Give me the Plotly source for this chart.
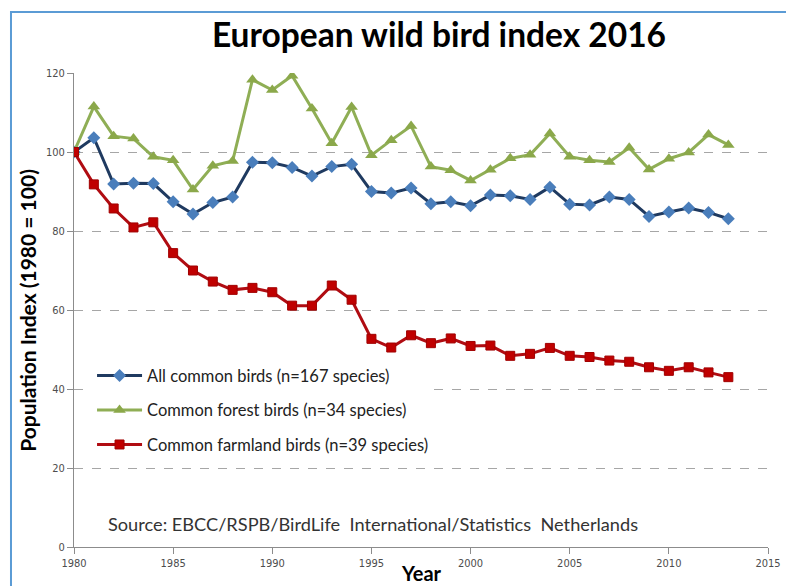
import plotly.graph_objects as go

years = list(range(1980, 2014))

all_common = [100, 103.6, 91.9, 92.1, 92.0, 87.4, 84.3, 87.2, 88.6, 97.4,
              97.3, 96.1, 93.9, 96.3, 96.9, 90.0, 89.6, 90.9, 86.9, 87.4,
              86.4, 89.1, 88.9, 88.0, 91.1, 86.8, 86.6, 88.6, 88.0, 83.7,
              84.8, 85.8, 84.7, 83.1]

forest = [100, 111.5, 104.0, 103.4, 98.8, 97.9, 90.5, 96.5, 97.7, 118.3,
          115.7, 119.3, 111.0, 102.2, 111.4, 99.2, 103.0, 106.6, 96.3, 95.4,
          92.8, 95.5, 98.4, 99.3, 104.7, 98.8, 97.9, 97.5, 101.1, 95.6,
          98.3, 99.9, 104.4, 101.8]

farmland = [100, 91.8, 85.7, 80.9, 82.2, 74.4, 70.0, 67.2, 65.1, 65.6,
            64.5, 61.1, 61.1, 66.2, 62.6, 52.7, 50.5, 53.6, 51.6, 52.8,
            50.9, 51.0, 48.4, 48.9, 50.4, 48.4, 48.1, 47.2, 46.9, 45.5,
            44.6, 45.5, 44.2, 43.0]

series_names = [
    "All common birds (n=167 species)",
    "Common forest birds (n=34 species)",
    "Common farmland birds (n=39 species)",
]

x_ticks = [1980, 1985, 1990, 1995, 2000, 2005, 2010, 2015]
y_ticks = [0, 20, 40, 60, 80, 100, 120]

body_font = "Lato, 'Noto Sans', sans-serif"
tick_font = "'Liberation Sans Narrow', 'DejaVu Sans Condensed', sans-serif"

fig = go.Figure()

fig.add_trace(go.Scatter(
    x=years, y=all_common, name=series_names[0], mode="lines+markers",
    legendgroup="a",
    line=dict(color="#1F3A60", width=3),
    marker=dict(symbol="diamond", size=10, color="#4A7EBB",
                line=dict(color="#4A7EBB", width=0)),
))
fig.add_trace(go.Scatter(
    x=years, y=forest, name=series_names[1], mode="lines+markers",
    legendgroup="b",
    line=dict(color="#8FAE55", width=3),
    marker=dict(symbol="triangle-up", size=11, color="#8BA84A",
                line=dict(color="#8BA84A", width=0)),
))
fig.add_trace(go.Scatter(
    x=years, y=farmland, name=series_names[2], mode="lines+markers",
    legendgroup="c",
    line=dict(color="#B00C12", width=3),
    marker=dict(symbol="square", size=9, color="#C00000",
                line=dict(color="#A00000", width=1)),
))

# light blue frame along the top and left edges
fig.add_shape(type="rect", xref="paper", yref="paper",
              x0=-0.0908, x1=1.5, y0=-0.5, y1=1.1287,
              line=dict(color="#5B9BD5", width=2), fillcolor="rgba(0,0,0,0)",
              layer="below")

fig.add_annotation(
    text="Source: EBCC/RSPB/BirdLife&nbsp; International/Statistics&nbsp; Netherlands",
    xref="paper", yref="paper", x=0.046, y=0.049,
    xanchor="left", yanchor="middle", showarrow=False,
    font=dict(family=body_font, size=18.2, color="#333333"),
)

# axis titles
fig.add_annotation(
    text="<b>Population Index (1980 = 100)</b>", textangle=-90,
    xref="paper", yref="paper", x=-0.068, y=0.5,
    xanchor="center", yanchor="middle", showarrow=False,
    font=dict(family=body_font, size=21, color="#000000"),
)
fig.add_annotation(
    text="<b>Year</b>",
    xref="paper", yref="paper", x=0.5, y=-0.055,
    xanchor="center", yanchor="middle", showarrow=False,
    font=dict(family=body_font, size=20, color="#000000"),
)

fig.update_layout(
    template="none",
    width=786, height=586,
    margin=dict(l=74, r=18, t=73, b=39),
    paper_bgcolor="white", plot_bgcolor="white",
    title=dict(text="<b>European wild bird index 2016</b>", x=0.5585,
               xanchor="center", y=0.94, yanchor="middle",
               font=dict(family=body_font, size=33.5, color="#000000")),
    showlegend=True,
    legend=dict(x=0.026, y=0.398, xanchor="left", yanchor="top",
                bgcolor="white", borderwidth=0, tracegroupgap=10,
                itemwidth=45,
                font=dict(family=body_font, size=16.5, color="#222222")),
    xaxis=dict(range=[1980, 2015], tickvals=x_ticks, showgrid=False,
               automargin=False,
               zeroline=False, showline=True, linecolor="#8C8C8C", linewidth=1,
               ticks="outside", ticklen=6, tickcolor="#8C8C8C",
               tickfont=dict(family=tick_font, size=11, color="#4D4D4D")),
    yaxis=dict(range=[0, 120], tickvals=y_ticks, showgrid=True,
               automargin=False,
               gridcolor="#A6A6A6", griddash="dash", gridwidth=1,
               zeroline=False, showline=True, linecolor="#8C8C8C", linewidth=1,
               ticks="outside", ticklen=6, tickcolor="#8C8C8C",
               tickfont=dict(family=tick_font, size=11, color="#4D4D4D")),
)

fig.write_html("out.html")
